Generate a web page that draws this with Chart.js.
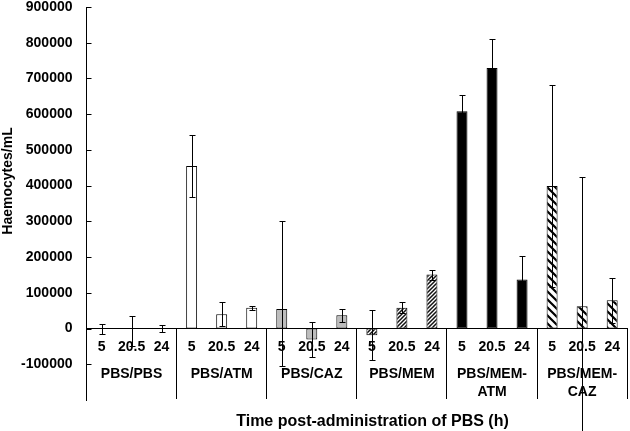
<!DOCTYPE html>
<html>
<head>
<meta charset="utf-8">
<script src="https://cdn.jsdelivr.net/npm/chart.js@4.4.1/dist/chart.umd.min.js"></script>
<style>
html,body{margin:0;padding:0;background:#fff;}
#wrap{width:630px;height:431px;position:relative;}
</style>
</head>
<body>
<div id="wrap"><canvas id="c" width="630" height="431"></canvas></div>
<script>
// ---- data ----
const groups = ['PBS/PBS', 'PBS/ATM', 'PBS/CAZ', 'PBS/MEM', 'PBS/MEM-ATM', 'PBS/MEM-CAZ'];
const times = ['5', '20.5', '24'];
const meanValues = [0, 0, 0, 455000, 40000, 58000, 55000, -31000, 37000, -19000, 58000, 151000, 608000, 729000, 137000, 399000, 62500, 79000];
const errPlus = [14000, 34500, 9000, 88000, 34000, 5000, 245000, 48000, 19000, 70000, 15000, 14000, 46000, 82000, 66000, 283000, 362500, 63000];
const errMinus = [14000, 50000, 9000, 88000, 34000, 5000, 160000, 48000, 19000, 70000, 15000, 14000, 46000, 82000, 66000, 283000, 362500, 63000];
const yTickValues = [-100000, 0, 100000, 200000, 300000, 400000, 500000, 600000, 700000, 800000, 900000];
const yTitle = 'Haemocytes/mL';
const xTitle = 'Time post-administration of PBS (h)';

// ---- derived ----
const categoryLabels = groups.flatMap(() => times);
const groupLabels = groups.map(g => g.indexOf('MEM-') >= 0 ? [g.slice(0, 8), g.slice(8)] : g);

function makePattern(size, drawFn) {
  const c = document.createElement('canvas');
  c.width = size; c.height = size;
  const x = c.getContext('2d');
  x.fillStyle = '#fff';
  x.fillRect(0, 0, size, size);
  drawFn(x, size);
  return document.getElementById('c').getContext('2d').createPattern(c, 'repeat');
}
const denseUp = makePattern(4, (x, s) => {
  x.strokeStyle = '#111'; x.lineWidth = 1.5;
  x.beginPath();
  x.moveTo(-1, s + 1); x.lineTo(s + 1, -1);
  x.moveTo(-1, 1); x.lineTo(1, -1);
  x.moveTo(s - 1, s + 1); x.lineTo(s + 1, s - 1);
  x.stroke();
});
const wideDown = makePattern(8, (x, s) => {
  x.strokeStyle = '#000'; x.lineWidth = 2.2;
  x.beginPath();
  x.moveTo(-1, -1); x.lineTo(s + 1, s + 1);
  x.moveTo(-1, s - 1); x.lineTo(1, s + 1);
  x.moveTo(s - 1, -1); x.lineTo(s + 1, 1);
  x.stroke();
});
const groupFills = ['#ffffff', '#ffffff', '#bdbdbd', denseUp, '#000000', wideDown];
const barFills = meanValues.map((v, i) => groupFills[Math.floor(i / 3)]);

const FONT = "'Liberation Sans', Arial, Helvetica, sans-serif";
Chart.defaults.font.family = FONT;
Chart.defaults.color = '#000';

const errorBars = {
  id: 'errorBars',
  afterDatasetsDraw(chart) {
    const {ctx, scales: {x, y}} = chart;
    ctx.save();
    ctx.strokeStyle = '#000';
    ctx.lineWidth = 1;
    meanValues.forEach((m, i) => {
      const px = Math.round(x.getPixelForValue(i)) + 0.5;
      const top = Math.round(y.getPixelForValue(m + errPlus[i])) + 0.5;
      const bot = Math.round(y.getPixelForValue(m - errMinus[i])) + 0.5;
      ctx.beginPath();
      ctx.moveTo(px, top); ctx.lineTo(px, bot);
      ctx.moveTo(px - 3, top); ctx.lineTo(px + 3, top);
      ctx.moveTo(px - 3, bot); ctx.lineTo(px + 3, bot);
      ctx.stroke();
    });
    ctx.restore();
  }
};

const decor = {
  id: 'decor',
  afterDraw(chart) {
    const {ctx, scales: {y}, chartArea} = chart;
    ctx.save();
    ctx.strokeStyle = '#000';
    ctx.lineWidth = 1;
    yTickValues.forEach(v => {
      const py = Math.round(y.getPixelForValue(v)) + 0.5;
      ctx.beginPath();
      ctx.moveTo(chartArea.left, py);
      ctx.lineTo(chartArea.left + 5, py);
      ctx.stroke();
    });
    ctx.fillStyle = '#000';
    ctx.font = 'bold 16px ' + FONT;
    ctx.textAlign = 'center';
    ctx.textBaseline = 'alphabetic';
    ctx.fillText(xTitle, 372.5, 425.5);
    ctx.translate(12, 181);
    ctx.rotate(-Math.PI / 2);
    ctx.font = 'bold 14px ' + FONT;
    ctx.fillText(yTitle, 0, 0);
    ctx.restore();
  }
};

new Chart(document.getElementById('c'), {
  type: 'bar',
  data: {
    labels: categoryLabels,
    datasets: [{
      data: meanValues,
      backgroundColor: barFills,
      borderColor: '#000',
      borderWidth: 1,
      borderSkipped: false,
      barPercentage: 0.365,
      categoryPercentage: 1
    }]
  },
  options: {
    responsive: false,
    animation: false,
    layout: {padding: {top: 7, bottom: 31, left: 20.5, right: 1}},
    plugins: {legend: {display: false}, tooltip: {enabled: false}, title: {display: false}},
    scales: {
      y: {
        min: -200000,
        max: 900000,
        afterBuildTicks: s => { s.ticks = yTickValues.map(v => ({value: v})); },
        afterFit: s => { s.width = 66; s.paddingTop = 0; s.paddingBottom = 0; },
        grid: {display: false, drawTicks: false},
        border: {display: true, color: '#000', width: 1},
        ticks: {padding: 14, font: {size: 14, weight: 'bold'}, color: '#000', callback: v => String(v)}
      },
      x: {
        type: 'category',
        position: {y: 0},
        offset: true,
        grid: {display: false, drawTicks: false},
        border: {display: true, color: '#000', width: 1},
        ticks: {padding: 10, maxRotation: 0, autoSkip: false, font: {size: 14, weight: 'bold'}, color: '#000'}
      },
      x2: {
        type: 'category',
        labels: groupLabels,
        position: {y: 0},
        offset: true,
        grid: {display: true, drawOnChartArea: false, drawTicks: true, tickLength: 70, offset: true, color: '#000', lineWidth: 1},
        border: {display: false},
        ticks: {padding: -33.75, maxRotation: 0, autoSkip: false, font: {size: 14, weight: 'bold', lineHeight: '18.5px'}, color: '#000'}
      }
    }
  },
  plugins: [errorBars, decor]
});
</script>
</body>
</html>
